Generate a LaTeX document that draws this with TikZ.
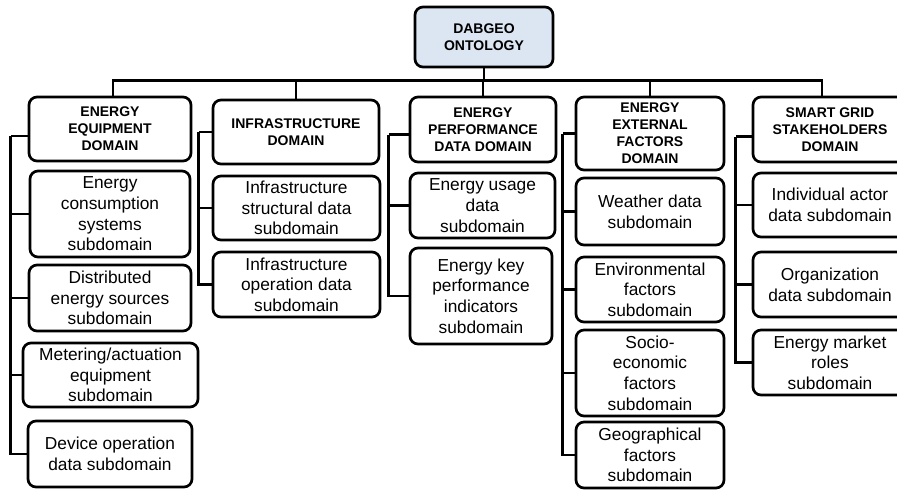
\documentclass[tikz,border=0pt]{standalone}
\usepackage{fontspec}
\setmainfont{Liberation Sans}
\usepackage{xcolor}
\definecolor{rootblue}{RGB}{220,230,242}

\newcommand{\px}{0.75pt}

\begin{document}
\begin{tikzpicture}[x=0.75pt,y=0.75pt,yscale=-1,xscale=1,
    box/.style={draw, line width=2pt, rounded corners=6pt, align=center, inner sep=0pt,
      font=\fontsize{13}{15.5}\selectfont},
    head/.style={box, font=\bfseries\fontsize{10.5}{12.7}\selectfont},
    wire/.style={line width=2pt}]
  \useasboundingbox (0,0) rectangle (897,490);
  \clip (0,0) rectangle (897,490);

  %Root
  \node[head, fill=rootblue, minimum width=138*\px, minimum height=60*\px] (root) at (484,37) {DABGEO\\ONTOLOGY};

  %Domain heads
  \node[head, minimum width=162*\px, minimum height=64*\px] (h1) at (110,129) {ENERGY\\EQUIPMENT\\DOMAIN};
  \node[head, minimum width=166*\px, minimum height=64*\px] (h2) at (296,132) {INFRASTRUCTURE\\DOMAIN};
  \node[head, minimum width=146*\px, minimum height=65*\px] (h3) at (483,129.5) {ENERGY\\PERFORMANCE\\DATA DOMAIN};
  \node[head, minimum width=148*\px, minimum height=73*\px] (h4) at (650,133.5) {ENERGY\\EXTERNAL\\FACTORS\\DOMAIN};
  \node[head, minimum width=154*\px, minimum height=65*\px] (h5) at (830,129.5) {SMART GRID\\STAKEHOLDERS\\DOMAIN};

  %Subdomains: energy equipment
  \node[box, minimum width=160*\px, minimum height=86*\px] (s11) at (110,214) {Energy\\consumption\\systems\\subdomain};
  \node[box, minimum width=162*\px, minimum height=66*\px] (s12) at (110,298) {Distributed\\energy sources\\subdomain};
  \node[box, minimum width=175*\px, minimum height=64*\px] (s13) at (110.5,375) {Metering/actuation\\equipment\\subdomain};
  \node[box, minimum width=164*\px, minimum height=66*\px] (s14) at (110,454) {Device operation\\data subdomain};

  %Subdomains: infrastructure
  \node[box, minimum width=167*\px, minimum height=64*\px] (s21) at (296.5,208) {Infrastructure\\structural data\\subdomain};
  \node[box, minimum width=167*\px, minimum height=65*\px] (s22) at (296.5,284.5) {Infrastructure\\operation data\\subdomain};

  %Subdomains: energy performance
  \node[box, minimum width=145*\px, minimum height=65*\px] (s31) at (482.5,205.5) {Energy usage\\data\\subdomain};
  \node[box, minimum width=142*\px, minimum height=96*\px] (s32) at (481,296) {Energy key\\performance\\indicators\\subdomain};

  %Subdomains: external factors
  \node[box, minimum width=148*\px, minimum height=67*\px] (s41) at (650,211.5) {Weather data\\subdomain};
  \node[box, minimum width=148*\px, minimum height=65*\px] (s42) at (650,289.5) {Environmental\\factors\\subdomain};
  \node[box, minimum width=148*\px, minimum height=86*\px] (s43) at (650,373) {Socio-\\economic\\factors\\subdomain};
  \node[box, minimum width=148*\px, minimum height=66*\px] (s44) at (650,455) {Geographical\\factors\\subdomain};

  %Subdomains: stakeholders
  \node[box, minimum width=154*\px, minimum height=64*\px] (s51) at (830,205) {Individual actor\\data subdomain};
  \node[box, minimum width=154*\px, minimum height=65*\px] (s52) at (830,284.5) {Organization\\data subdomain};
  \node[box, minimum width=154*\px, minimum height=65*\px] (s53) at (830,362.5) {Energy market\\roles\\subdomain};

  %Bus from root
  \draw[wire] (root.south) -- ++(0,12) coordinate (bus);
  \draw[wire] (bus) -| ([xshift=3*\px]h1.north);
  \draw[wire] (bus) -| (h2.north);
  \draw[wire] (bus) -| (h3.north);
  \draw[wire] (bus) -| (h4.north);
  \draw[wire] (bus) -| ([xshift=-8*\px]h5.north);

  %Spines
  \draw[wire] ([yshift=7*\px]h1.west) -- ++(-17,0) coordinate (sp1);
  \foreach \c in {s11,s12,s13,s14}
    \draw[wire] (sp1) |- (\c.west);
  \draw[wire] (h2.west) -- ++(-13,0) coordinate (sp2);
  \foreach \c in {s21,s22}
    \draw[wire] (sp2) |- (\c.west);
  \draw[wire] ([yshift=5*\px]h3.west) -- ++(-20,0) coordinate (sp3);
  \foreach \c in {s31,s32}
    \draw[wire] (sp3) |- (\c.west);
  \draw[wire] (h4.west) -- ++(-12,0) coordinate (sp4);
  \foreach \c in {s41,s42,s43,s44}
    \draw[wire] (sp4) |- (\c.west);
  \draw[wire] ([yshift=7*\px]h5.west) -- ++(-16,0) coordinate (sp5);
  \foreach \c in {s51,s52,s53}
    \draw[wire] (sp5) |- (\c.west);

\end{tikzpicture}
\end{document}
